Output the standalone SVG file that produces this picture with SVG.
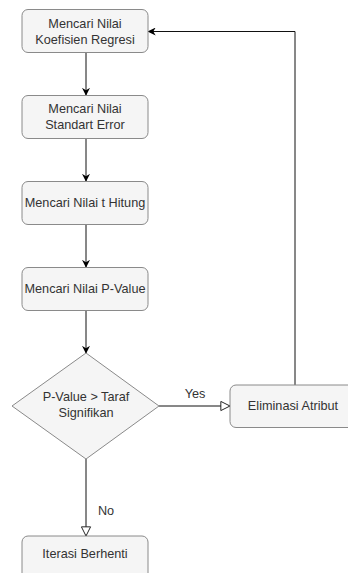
<svg xmlns="http://www.w3.org/2000/svg" width="348" height="573" viewBox="0 0 348 573">
<style>
.box{fill:#f5f5f5;stroke:#8a8a8a;stroke-width:1}
.t{font-family:"Liberation Sans",Arial,sans-serif;font-size:12.7px;fill:#333;text-anchor:middle}
.c{fill:none;stroke:#111;stroke-width:1}
</style>
<defs>
<marker id="af" viewBox="0 0 10 10" refX="9" refY="5" markerWidth="8" markerHeight="8" markerUnits="userSpaceOnUse" orient="auto">
<path d="M0,0 L10,5 L0,10 L3,5 Z" fill="#000"/>
</marker>
<marker id="ah" viewBox="0 0 12 12" refX="11" refY="6" markerWidth="11" markerHeight="11" markerUnits="userSpaceOnUse" orient="auto">
<path d="M1,1 L11,6 L1,11 Z" fill="#fff" stroke="#111" stroke-width="1"/>
</marker>
</defs>
<rect width="348" height="573" fill="#fff"/>
<g id="connectors">
<path class="c" d="M86,52.5 V95" marker-end="url(#af)"/>
<path class="c" d="M86,138 V181" marker-end="url(#af)"/>
<path class="c" d="M86,224 V267" marker-end="url(#af)"/>
<path class="c" d="M86,310 V353" marker-end="url(#af)"/>
<path class="c" d="M159,406 H230" marker-end="url(#ah)"/>
<path class="c" d="M86,459 V536" marker-end="url(#ah)"/>
<path class="c" d="M295,385 V31.5 H148.5" marker-end="url(#af)"/>
<text class="t" x="195" y="398">Yes</text>
<text class="t" x="106" y="515">No</text>
</g>
<g id="n1"><rect class="box" x="22" y="9.5" width="126" height="43" rx="6"/><text class="t" x="85" y="27.5">Mencari Nilai</text><text class="t" x="85" y="43.5">Koefisien Regresi</text></g>
<g id="n2"><rect class="box" x="22" y="95.5" width="126" height="43" rx="6"/><text class="t" x="85" y="113">Mencari Nilai</text><text class="t" x="85" y="129">Standart Error</text></g>
<g id="n3"><rect class="box" x="22" y="181.5" width="126" height="43" rx="6"/><text class="t" x="85" y="207">Mencari Nilai t Hitung</text></g>
<g id="n4"><rect class="box" x="22" y="267.5" width="126" height="43" rx="6"/><text class="t" x="85" y="292.5">Mencari Nilai P-Value</text></g>
<g id="n5"><path class="box" d="M86,353 L159,406 L86,459 L12,406 Z"/><text class="t" x="86" y="401">P-Value &gt; Taraf</text><text class="t" x="86" y="416.5">Signifikan</text></g>
<g id="n6"><rect class="box" x="230" y="385" width="126" height="42.5" rx="6"/><text class="t" x="293" y="409.5">Eliminasi Atribut</text></g>
<g id="n7"><rect class="box" x="22" y="536" width="126" height="43" rx="6"/><text class="t" x="85" y="558">Iterasi Berhenti</text></g>
</svg>
